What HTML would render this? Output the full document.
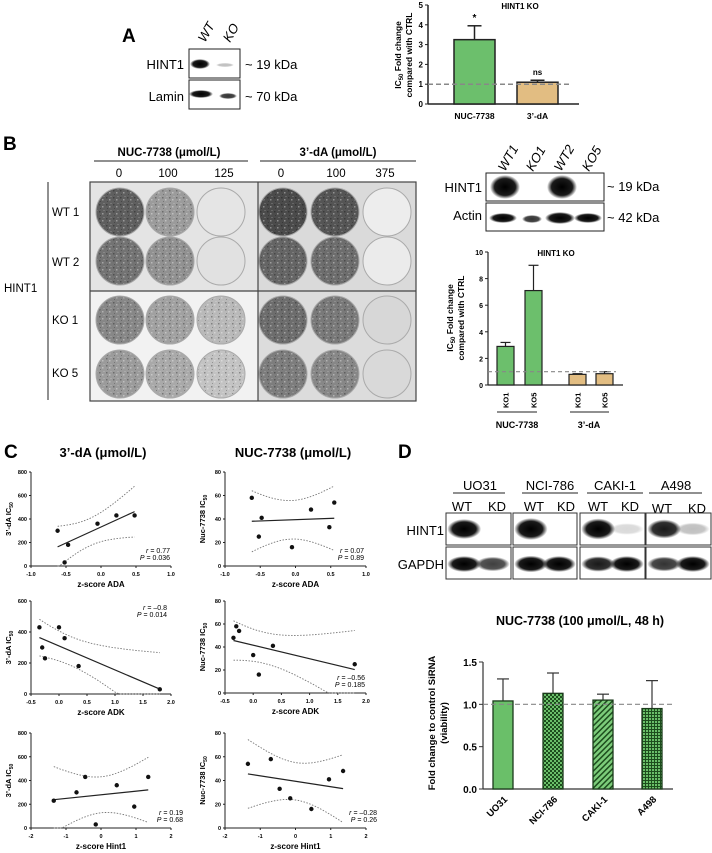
<!DOCTYPE html>
<html><head><meta charset="utf-8"><style>
html,body{margin:0;padding:0;background:#fff;}
svg{display:block;font-family:"Liberation Sans",Arial,sans-serif;}
.b{font-weight:bold;}
</style></head><body>
<svg id="fig" width="712" height="853" viewBox="0 0 712 853" xmlns="http://www.w3.org/2000/svg">
<defs>
<pattern id="speck" width="7" height="7" patternUnits="userSpaceOnUse">
<rect x="1" y="1" width="1.5" height="1.5" fill="#000" opacity="0.5"/><rect x="4" y="3" width="1.5" height="1.5" fill="#fff" opacity="0.6"/><rect x="2" y="5" width="1" height="1" fill="#000" opacity="0.4"/><rect x="5.5" y="0" width="1" height="1" fill="#fff" opacity="0.5"/>
</pattern>
<pattern id="check" width="4" height="4" patternUnits="userSpaceOnUse"><rect width="4" height="4" fill="#6abf69"/><rect width="2" height="2" fill="#1d4d1d"/><rect x="2" y="2" width="2" height="2" fill="#1d4d1d"/></pattern>
<pattern id="diag" width="4" height="4" patternUnits="userSpaceOnUse" patternTransform="rotate(45)"><rect width="4" height="4" fill="#7ccc7a"/><rect width="1.5" height="4" fill="#1d4d1d"/></pattern>
<pattern id="grid" width="3" height="3" patternUnits="userSpaceOnUse"><rect width="3" height="3" fill="#6abf69"/><rect width="3" height="1" fill="#1d4d1d"/><rect width="1" height="3" fill="#1d4d1d"/></pattern>
<radialGradient id="band" cx="50%" cy="50%" r="50%"><stop offset="0" stop-color="#000" stop-opacity="1"/><stop offset="0.7" stop-color="#000" stop-opacity="0.9"/><stop offset="1" stop-color="#000" stop-opacity="0"/></radialGradient>
</defs>

<!-- Panel A -->
<text x="122" y="42" font-size="19" class="b">A</text>
<text transform="translate(205,43) rotate(-60)" font-size="13" font-style="italic">WT</text>
<text transform="translate(230,43) rotate(-60)" font-size="13" font-style="italic">KO</text>
<text x="184" y="69" font-size="13" text-anchor="end">HINT1</text>
<text x="184" y="101" font-size="13" text-anchor="end">Lamin</text>
<g>
<rect x="189" y="49" width="51" height="29" fill="#fff" stroke="#222"/>
<rect x="189" y="80" width="51" height="29" fill="#fff" stroke="#222"/>
<ellipse cx="200" cy="64" rx="10" ry="5" fill="url(#band)"/>
<ellipse cx="225" cy="65" rx="9" ry="2" fill="url(#band)" opacity="0.25"/>
<ellipse cx="201" cy="94" rx="12" ry="4" fill="url(#band)"/>
<ellipse cx="228" cy="96" rx="9" ry="3" fill="url(#band)" opacity="0.8"/>
</g>
<text x="245" y="69" font-size="13">~ 19 kDa</text>
<text x="245" y="101" font-size="13">~ 70 kDa</text>
<g id="chartA"></g>

<!-- Panel B -->
<text x="3" y="150" font-size="19" class="b">B</text>
<text x="169" y="156" font-size="11.5" class="b" text-anchor="middle">NUC-7738 (μmol/L)</text>
<text x="338" y="156" font-size="11.5" class="b" text-anchor="middle">3’-dA (μmol/L)</text>
<line x1="94" y1="161" x2="248" y2="161" stroke="#222"/>
<line x1="260" y1="161" x2="416" y2="161" stroke="#222"/>
<g font-size="11.5" text-anchor="middle">
<text x="119" y="177">0</text><text x="168" y="177">100</text><text x="224" y="177">125</text>
<text x="281" y="177">0</text><text x="336" y="177">100</text><text x="385" y="177">375</text>
</g>
<line x1="48" y1="182" x2="48" y2="400" stroke="#222"/>
<g font-size="11.5">
<text x="52" y="216">WT 1</text><text x="52" y="266">WT 2</text><text x="52" y="324">KO 1</text><text x="52" y="377">KO 5</text>
<text x="4" y="292">HINT1</text>
</g>
<g id="plates"></g>

<text transform="translate(505,172) rotate(-60)" font-size="13" font-style="italic">WT1</text>
<text transform="translate(533,172) rotate(-60)" font-size="13" font-style="italic">KO1</text>
<text transform="translate(561,172) rotate(-60)" font-size="13" font-style="italic">WT2</text>
<text transform="translate(589,172) rotate(-60)" font-size="13" font-style="italic">KO5</text>
<text x="482" y="192" font-size="13" text-anchor="end">HINT1</text>
<text x="482" y="220" font-size="13" text-anchor="end">Actin</text>
<g>
<rect x="486" y="173" width="118" height="28" fill="#fff" stroke="#222"/>
<rect x="486" y="203" width="118" height="28" fill="#fff" stroke="#222"/>
<ellipse cx="505" cy="187" rx="15" ry="12" fill="url(#band)"/>
<ellipse cx="562" cy="187" rx="15" ry="12" fill="url(#band)"/>
<ellipse cx="503" cy="218" rx="14" ry="5" fill="url(#band)"/>
<ellipse cx="532" cy="219" rx="10" ry="4" fill="url(#band)" opacity="0.8"/>
<ellipse cx="560" cy="218" rx="15" ry="6" fill="url(#band)"/>
<ellipse cx="588" cy="218" rx="14" ry="5" fill="url(#band)"/>
</g>
<text x="607" y="191" font-size="13">~ 19 kDa</text>
<text x="607" y="222" font-size="13">~ 42 kDa</text>
<g id="chartB"></g>

<!-- Panel C -->
<text x="4" y="458" font-size="19" class="b">C</text>
<text x="103" y="457" font-size="13" class="b" text-anchor="middle">3’-dA (μmol/L)</text>
<text x="293" y="457" font-size="13" class="b" text-anchor="middle">NUC-7738 (μmol/L)</text>
<g id="chartC"></g>

<!-- Panel D -->
<text x="398" y="458" font-size="19" class="b">D</text>
<g font-size="13" text-anchor="middle">
<text x="480" y="490">UO31</text><text x="550" y="490">NCI-786</text><text x="615" y="490">CAKI-1</text><text x="676" y="490">A498</text>
</g>
<g stroke="#222">
<line x1="453" y1="493" x2="505" y2="493"/><line x1="522" y1="493" x2="578" y2="493"/><line x1="587" y1="493" x2="643" y2="493"/><line x1="649" y1="493" x2="702" y2="493"/>
</g>
<g font-size="13" text-anchor="middle">
<text x="462" y="511">WT</text><text x="497" y="511">KD</text><text x="534" y="511">WT</text><text x="566" y="511">KD</text>
<text x="598" y="511">WT</text><text x="630" y="511">KD</text><text x="662" y="513">WT</text><text x="697" y="513">KD</text>
</g>
<text x="444" y="535" font-size="13" text-anchor="end">HINT1</text>
<text x="444" y="569" font-size="13" text-anchor="end">GAPDH</text>
<g id="blotD"></g>
<g id="chartD"></g>
</svg>
<script>
const NS='http://www.w3.org/2000/svg';
function mk(parent,tag,attrs,text){const e=document.createElementNS(NS,tag);for(const k in attrs)e.setAttribute(k,attrs[k]);if(text!==undefined)e.textContent=text;parent.appendChild(e);return e;}

/* ---------- Chart A data ---------- */
const aCategories=['NUC-7738','3’-dA'];
const aValues=[3.25,1.1];
const aErrors=[3.95,1.2];
const aMarks=['*','ns'];
const aTicks=[0,1,2,3,4,5];

/* ---------- Chart B data ---------- */
const bCategories=['KO1','KO5','KO1','KO5'];
const bValues=[2.9,7.1,0.8,0.85];
const bErrors=[3.2,9.0,0.85,1.0];
const bTicks=[0,2,4,6,8,10];

/* ---------- Chart D data ---------- */
const dCategories=['UO31','NCI-786','CAKI-1','A498'];
const dValues=[1.04,1.13,1.05,0.95];
const dErrors=[1.3,1.37,1.12,1.28];
const dTicks=['0.0','0.5','1.0','1.5'];

/* ---------- Panel C data ---------- */
const adaX=[-0.62,-0.47,-0.52,-0.05,0.22,0.48];
const adaY3dA=[300,180,30,360,430,430];
const adaXnuc=[-0.62,-0.48,-0.52,-0.05,0.22,0.48,0.55];
const adaYnuc=[58,41,25,16,48,33,54];
const adkX=[-0.35,-0.3,-0.25,0,0.1,0.35,1.8];
const adkY3dA=[430,300,230,430,360,180,30];
const adkYnuc=[48,58,54,33,16,41,25];
const hintX=[-1.35,-0.7,-0.45,-0.15,0.45,0.95,1.35];
const hintY3dA=[230,300,430,30,360,180,430];
const hintYnuc=[54,58,33,25,16,41,48];
const statsR=['0.77','0.07','–0.8','–0.56','0.19','–0.28'];
const statsP=['0.036','0.89','0.014','0.185','0.68','0.26'];

/* ---------- Plates data (darkness 0..1) ---------- */
const plateDark=[[0.75,0.45,0.08,0.85,0.8,0.04],[0.65,0.5,0.1,0.72,0.68,0.05],[0.55,0.42,0.3,0.68,0.62,0.15],[0.45,0.38,0.25,0.6,0.55,0.14]];

function linear(d0,d1,r0,r1){return v=>r0+(v-d0)/(d1-d0)*(r1-r0);}

/* Chart A */
(function(){
 const g=document.getElementById('chartA');
 const y=linear(0,5,104,5);
 const x0=428,x1=579,bx=[454,517],bw=41;
 mk(g,'text',{x:520,y:9,'font-size':8,class:'b','text-anchor':'middle'},'HINT1 KO');
 const yl=mk(g,'text',{transform:'translate(401,55) rotate(-90)','font-size':8.5,class:'b','text-anchor':'middle'});
 yl.innerHTML='IC<tspan font-size="6" dy="2">50</tspan><tspan dy="-2"> Fold change</tspan>';
 mk(g,'text',{transform:'translate(412,55) rotate(-90)','font-size':8.5,class:'b','text-anchor':'middle'},'compared with CTRL');
 mk(g,'line',{x1:x0,y1:y(5),x2:x0,y2:y(0),stroke:'#222','stroke-width':1.5});
 mk(g,'line',{x1:x0,y1:y(0),x2:x1,y2:y(0),stroke:'#222','stroke-width':1.5});
 aTicks.forEach(t=>{const tk=mk(g,'line',{x1:x0-3,y1:y(t),x2:x0,y2:y(t),stroke:'#222'});
  
  
  mk(g,'text',{x:x0-5,y:y(t)+3,'font-size':8,class:'b','text-anchor':'end'},t);});
 const cols=['#6cbf6c','#e2bd82'];
 aValues.forEach((v,i)=>{
  const r=mk(g,'rect',{x:bx[i],y:y(v),width:bw,height:y(0)-y(v),fill:cols[i],stroke:'#222','stroke-width':1.5});
  
  
  const cx=bx[i]+bw/2;
  mk(g,'line',{x1:cx,y1:y(v),x2:cx,y2:y(aErrors[i]),stroke:'#222','stroke-width':1.5});
  mk(g,'line',{x1:cx-7,y1:y(aErrors[i]),x2:cx+7,y2:y(aErrors[i]),stroke:'#222','stroke-width':1.5});
  mk(g,'text',{x:cx,y:y(aErrors[i])-5,'font-size':i?8:10,class:'b','text-anchor':'middle'},aMarks[i]);
  mk(g,'text',{x:cx,y:119,'font-size':8.5,class:'b','text-anchor':'middle'},aCategories[i]);
 });
 mk(g,'line',{x1:x0,y1:y(1),x2:572,y2:y(1),stroke:'#888','stroke-width':1.5,'stroke-dasharray':'5,3'});
})();

/* Chart B */
(function(){
 const g=document.getElementById('chartB');
 const y=linear(0,10,385,252);
 const x0=488,x1=623,bx=[497,525,569,596],bw=17;
 mk(g,'text',{x:556,y:256,'font-size':8,class:'b','text-anchor':'middle'},'HINT1 KO');
 const yl=mk(g,'text',{transform:'translate(453,318) rotate(-90)','font-size':8.5,class:'b','text-anchor':'middle'});
 yl.innerHTML='IC<tspan font-size="6" dy="2">50</tspan><tspan dy="-2"> Fold change</tspan>';
 mk(g,'text',{transform:'translate(464,318) rotate(-90)','font-size':8.5,class:'b','text-anchor':'middle'},'compared with CTRL');
 mk(g,'line',{x1:x0,y1:y(10),x2:x0,y2:y(0),stroke:'#222','stroke-width':1.2});
 mk(g,'line',{x1:x0,y1:y(0),x2:x1,y2:y(0),stroke:'#222','stroke-width':1.2});
 bTicks.forEach(t=>{mk(g,'line',{x1:x0-3,y1:y(t),x2:x0,y2:y(t),stroke:'#222'});
  mk(g,'text',{x:x0-5,y:y(t)+3,'font-size':7,class:'b','text-anchor':'end'},t);});
 bValues.forEach((v,i)=>{
  const r=mk(g,'rect',{x:bx[i],y:y(v),width:bw,height:y(0)-y(v),fill:i<2?'#6cbf6c':'#e2bd82',stroke:'#222','stroke-width':1.2});
  
  
  const cx=bx[i]+bw/2;
  mk(g,'line',{x1:cx,y1:y(v),x2:cx,y2:y(bErrors[i]),stroke:'#222','stroke-width':1.2});
  mk(g,'line',{x1:cx-5,y1:y(bErrors[i]),x2:cx+5,y2:y(bErrors[i]),stroke:'#222','stroke-width':1.2});
  mk(g,'text',{transform:`translate(${cx+3},408) rotate(-90)`,'font-size':7.5,class:'b'},bCategories[i]);
 });
 mk(g,'line',{x1:x0,y1:y(1),x2:616,y2:y(1),stroke:'#888','stroke-width':1.2,'stroke-dasharray':'4,3'});
 mk(g,'line',{x1:497,y1:412,x2:537,y2:412,stroke:'#222'});
 mk(g,'line',{x1:570,y1:412,x2:609,y2:412,stroke:'#222'});
 mk(g,'text',{x:517,y:428,'font-size':9,class:'b','text-anchor':'middle'},'NUC-7738');
 mk(g,'text',{x:589,y:428,'font-size':9,class:'b','text-anchor':'middle'},'3’-dA');
})();

/* Plates */
(function(){
 const g=document.getElementById('plates');
 mk(g,'rect',{x:90,y:182,width:168,height:109,fill:'#e4e4e4'});
 mk(g,'rect',{x:258,y:182,width:158,height:109,fill:'#dadada'});
 mk(g,'rect',{x:90,y:291,width:168,height:110,fill:'#f2f2f2'});
 mk(g,'rect',{x:258,y:291,width:158,height:110,fill:'#dcdcdc'});
 const cxs=[120,170,221,283,335,387],cys=[212,261,320,374];
 plateDark.forEach((row,r)=>row.forEach((d,c)=>{
  const v=Math.round(245-d*200);
  const e=mk(g,'ellipse',{cx:cxs[c],cy:cys[r],rx:24,ry:24,fill:`rgb(${v},${v},${v})`,stroke:'#aaa','stroke-width':1});
  
  
  if(d>0.2)mk(g,'ellipse',{cx:cxs[c],cy:cys[r],rx:23,ry:23,fill:'url(#speck)',opacity:0.6});
 }));
 mk(g,'rect',{x:90,y:182,width:326,height:219,fill:'none',stroke:'#444','stroke-width':1.2});
 mk(g,'line',{x1:258,y1:182,x2:258,y2:401,stroke:'#444','stroke-width':1.2});
 mk(g,'line',{x1:90,y1:291,x2:416,y2:291,stroke:'#444','stroke-width':1.2});
})();

/* Panel C scatter plots */
function regress(xs,ys){const n=xs.length,mx=xs.reduce((a,b)=>a+b)/n,my=ys.reduce((a,b)=>a+b)/n;
 let sxx=0,sxy=0;xs.forEach((x,i)=>{sxx+=(x-mx)*(x-mx);sxy+=(x-mx)*(ys[i]-my);});
 const b=sxy/sxx,a=my-b*mx;let sse=0;xs.forEach((x,i)=>{const r=ys[i]-(a+b*x);sse+=r*r;});
 return {a,b,mx,sxx,n,s:Math.sqrt(sse/(n-2))};}
function scatter(cfg){
 const g=document.getElementById('chartC');
 const sub=mk(g,'g',{});
 
 
 const x=linear(cfg.xd[0],cfg.xd[1],cfg.px[0],cfg.px[1]);
 const y=linear(cfg.yd[0],cfg.yd[1],cfg.py[0],cfg.py[1]);
 mk(sub,'line',{x1:cfg.px[0],y1:cfg.py[0],x2:cfg.px[0],y2:cfg.py[1],stroke:'#222'});
 mk(sub,'line',{x1:cfg.px[0],y1:cfg.py[0],x2:cfg.px[1],y2:cfg.py[0],stroke:'#222'});
 cfg.yt.forEach(t=>{mk(sub,'line',{x1:cfg.px[0]-2,y1:y(t),x2:cfg.px[0],y2:y(t),stroke:'#222'});
  mk(sub,'text',{x:cfg.px[0]-4,y:y(t)+2,'font-size':5.5,class:'b','text-anchor':'end'},t);});
 cfg.xt.forEach(t=>{mk(sub,'line',{x1:x(t),y1:cfg.py[0],x2:x(t),y2:cfg.py[0]+2,stroke:'#222'});
  mk(sub,'text',{x:x(t),y:cfg.py[0]+10,'font-size':5.5,class:'b','text-anchor':'middle'},cfg.xtl?cfg.xtl(t):t);});
 mk(sub,'text',{x:(cfg.px[0]+cfg.px[1])/2,y:cfg.py[0]+21,'font-size':8,class:'b','text-anchor':'middle'},cfg.xlabel);
 const yl=mk(sub,'text',{transform:`translate(${cfg.px[0]-20},${(cfg.py[0]+cfg.py[1])/2}) rotate(-90)`,'font-size':7.5,class:'b','text-anchor':'middle'});
 yl.innerHTML=cfg.ylabel+' IC<tspan font-size="5" dy="2">50</tspan>';
 const R=regress(cfg.xs,cfg.ys);
 const xmin=Math.min(...cfg.xs),xmax=Math.max(...cfg.xs);
 mk(sub,'line',{x1:x(xmin),y1:y(R.a+R.b*xmin),x2:x(xmax),y2:y(R.a+R.b*xmax),stroke:'#222','stroke-width':1.2});
 const tv=2.57;[1,-1].forEach(sg=>{let d='';
  for(let k=0;k<=30;k++){const xv=xmin+(xmax-xmin)*k/30;const se=R.s*Math.sqrt(1/R.n+(xv-R.mx)*(xv-R.mx)/R.sxx);
   let yv=R.a+R.b*xv+sg*tv*se;let py=y(yv);if(py>cfg.py[0])py=cfg.py[0];d+=(k?'L':'M')+x(xv).toFixed(1)+','+py.toFixed(1);}
  mk(sub,'path',{d,fill:'none',stroke:'#777','stroke-width':0.9,'stroke-dasharray':'1.5,1.5'});});
 cfg.xs.forEach((xv,i)=>{const c=mk(sub,'circle',{cx:x(xv),cy:y(cfg.ys[i]),r:2.2,fill:'#111'});
  
  });
 const t1=mk(sub,'text',{x:cfg.st[0],y:cfg.st[1],'font-size':7,'text-anchor':'end'});
 t1.innerHTML='<tspan font-style="italic">r</tspan> = '+statsR[cfg.si];
 const t2=mk(sub,'text',{x:cfg.st[0],y:cfg.st[1]+7,'font-size':7,'text-anchor':'end'});
 t2.innerHTML='<tspan font-style="italic">P</tspan> = '+statsP[cfg.si];
}
const f1=t=>t.toFixed(1);
scatter({name:'plot-3da-ada',xs:adaX,ys:adaY3dA,xd:[-1,1],px:[31,171],yd:[0,800],py:[566,472],xt:[-1,-0.5,0,0.5,1],xtl:f1,yt:[0,200,400,600,800],xlabel:'z-score ADA',ylabel:'3’-dA',st:[170,553],si:0});
scatter({name:'plot-nuc-ada',xs:adaXnuc,ys:adaYnuc,xd:[-1,1],px:[225,366],yd:[0,80],py:[566,472],xt:[-1,-0.5,0,0.5,1],xtl:f1,yt:[0,20,40,60,80],xlabel:'z-score ADA',ylabel:'Nuc-7738',st:[364,553],si:1});
scatter({name:'plot-3da-adk',xs:adkX,ys:adkY3dA,xd:[-0.5,2],px:[31,171],yd:[0,600],py:[694,601],xt:[-0.5,0,0.5,1,1.5,2],xtl:f1,yt:[0,200,400,600],xlabel:'z-score ADK',ylabel:'3’-dA',st:[167,610],si:2});
scatter({name:'plot-nuc-adk',xs:adkX,ys:adkYnuc,xd:[-0.5,2],px:[225,366],yd:[0,80],py:[693,601],xt:[-0.5,0,0.5,1,1.5,2],xtl:f1,yt:[0,20,40,60,80],xlabel:'z-score ADK',ylabel:'Nuc-7738',st:[365,680],si:3});
scatter({name:'plot-3da-hint1',xs:hintX,ys:hintY3dA,xd:[-2,2],px:[31,171],yd:[0,800],py:[828,733],xt:[-2,-1,0,1,2],yt:[0,200,400,600,800],xlabel:'z-score Hint1',ylabel:'3’-dA',st:[183,815],si:4});
scatter({name:'plot-nuc-hint1',xs:hintX,ys:hintYnuc,xd:[-2,2],px:[225,366],yd:[0,80],py:[828,733],xt:[-2,-1,0,1,2],yt:[0,20,40,60,80],xlabel:'z-score Hint1',ylabel:'Nuc-7738',st:[377,815],si:5});

/* Blot D */
(function(){
 const g=document.getElementById('blotD');
 const bx=[[446,511],[513,577],[580,645],[646,711]];
 const hint=[[1,0],[1.2,0],[1.1,0.15],[0.9,0.25]];
 const gap=[[1,0.75],[1.1,1],[0.9,1],[0.8,1]];
 bx.forEach((b,i)=>{
  mk(g,'rect',{x:b[0],y:513,width:b[1]-b[0],height:32,fill:'#fff',stroke:'#333'});
  mk(g,'rect',{x:b[0],y:547,width:b[1]-b[0],height:32,fill:'#fff',stroke:'#333'});
  const w=b[1]-b[0];
  [0,1].forEach(l=>{const cx=b[0]+w*(l?0.72:0.28);
   if(hint[i][l]>0)mk(g,'ellipse',{cx,cy:529,rx:w*0.26,ry:5+hint[i][l]*5,fill:'url(#band)',opacity:Math.min(1,hint[i][l])});
   mk(g,'ellipse',{cx,cy:564,rx:w*0.26,ry:5+gap[i][l]*3,fill:'url(#band)',opacity:Math.min(1,gap[i][l])});});
 });
})();

/* Chart D */
(function(){
 const g=document.getElementById('chartD');
 const y=linear(0,1.5,789,662);
 const x0=483,x1=673,bx=[493,543,593,642],bw=20;
 const fills=['#6abf69','url(#check)','url(#diag)','url(#grid)'];
 mk(g,'text',{x:580,y:625,'font-size':12.5,class:'b','text-anchor':'middle'},'NUC-7738 (100 μmol/L, 48 h)');
 mk(g,'text',{transform:'translate(435,723) rotate(-90)','font-size':9.5,class:'b','text-anchor':'middle'},'Fold change to control SiRNA');
 mk(g,'text',{transform:'translate(447,723) rotate(-90)','font-size':9.5,class:'b','text-anchor':'middle'},'(viability)');
 mk(g,'line',{x1:x0,y1:y(1.5),x2:x0,y2:y(0),stroke:'#333','stroke-width':1.2});
 mk(g,'line',{x1:x0,y1:y(0),x2:x1,y2:y(0),stroke:'#333','stroke-width':1.2});
 dTicks.forEach(t=>{const v=parseFloat(t);mk(g,'line',{x1:x0-4,y1:y(v),x2:x0,y2:y(v),stroke:'#333'});
  mk(g,'text',{x:x0-6,y:y(v)+4,'font-size':10,class:'b','text-anchor':'end'},t);});
 dValues.forEach((v,i)=>{
  const cx=bx[i]+bw/2;
  mk(g,'line',{x1:cx,y1:y(v),x2:cx,y2:y(dErrors[i]),stroke:'#333','stroke-width':1.2});
  mk(g,'line',{x1:cx-6,y1:y(dErrors[i]),x2:cx+6,y2:y(dErrors[i]),stroke:'#333','stroke-width':1.2});
  const r=mk(g,'rect',{x:bx[i],y:y(v),width:bw,height:y(0)-y(v),fill:fills[i],stroke:'#1b3a1b','stroke-width':1.3});
  
  
  mk(g,'text',{transform:`translate(${cx+5},800) rotate(-45)`,'font-size':9.5,class:'b','text-anchor':'end'},dCategories[i]);
 });
 mk(g,'line',{x1:x0,y1:y(1),x2:673,y2:y(1),stroke:'#888','stroke-width':1.1,'stroke-dasharray':'5,3'});
})();
</script>
</body></html>
